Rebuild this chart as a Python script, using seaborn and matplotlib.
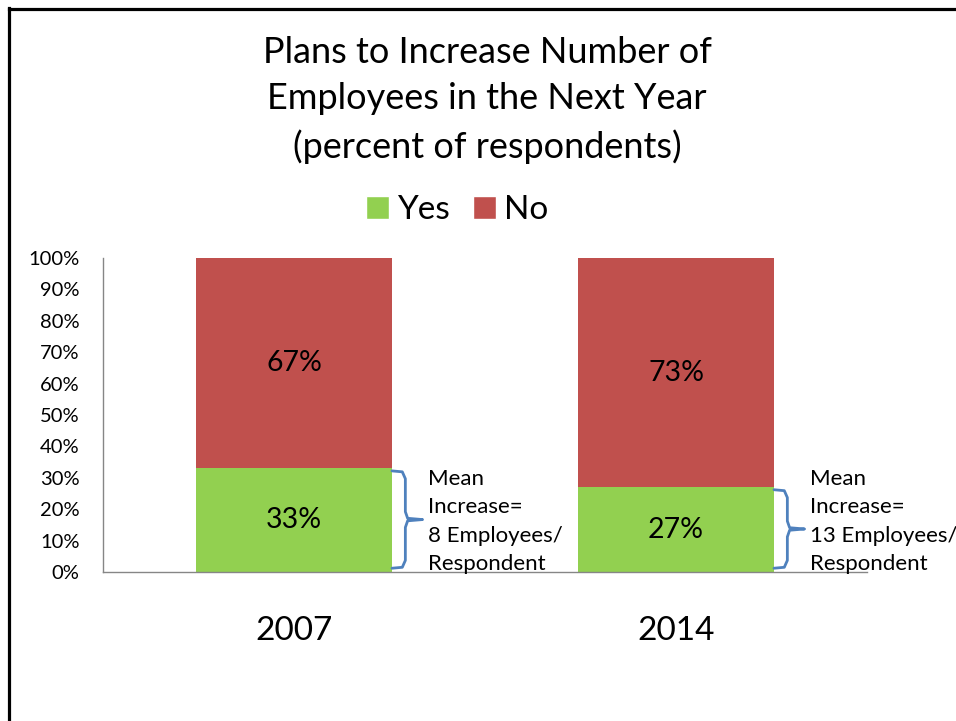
import matplotlib
matplotlib.use("Agg")
import matplotlib.pyplot as plt
from matplotlib.lines import Line2D
from matplotlib.patches import Patch
import seaborn as sns
import pandas as pd

years = ["2007", "2014"]
yes_pct = [33, 27]
no_pct = [67, 73]
mean_increase = ["8", "13"]
yticks = list(range(0, 101, 10))

GREEN = "#92D050"
RED = "#C0504D"
BLUE = "#4F81BD"
FONT = ["Lato", "DejaVu Sans"]

sns.set_style("white")
plt.rcParams["font.family"] = FONT
plt.rcParams["text.color"] = "black"
plt.rcParams["xtick.color"] = "black"
plt.rcParams["ytick.color"] = "black"

df = pd.DataFrame({"year": years, "yes": yes_pct, "no": no_pct})
df["total"] = df["yes"] + df["no"]

fig = plt.figure(figsize=(9.56, 7.21), dpi=100)
W, H = 956, 721
ax = fig.add_axes([103 / W, 1 - 572 / H, (867 - 103) / W, (572 - 258) / H])

sns.barplot(data=df, x="year", y="total", color=RED, width=0.513, ax=ax,
            saturation=1, edgecolor="none", linewidth=0)
sns.barplot(data=df, x="year", y="yes", color=GREEN, width=0.513, ax=ax,
            saturation=1, edgecolor="none", linewidth=0)

ax.set_ylim(0, 100)
ax.set_xlim(-0.5, 1.5)
ax.set_yticks(yticks)
ax.set_yticklabels([f"{t}%" for t in yticks], fontsize=14.5)
ax.set_xlabel("")
ax.set_ylabel("")
ax.tick_params(axis="y", direction="out", length=6, width=1, color="#868686",
               labelcolor="black", pad=11)
ax.tick_params(axis="x", length=0, labelsize=24, pad=32, labelcolor="black")
for s in ["top", "right"]:
    ax.spines[s].set_visible(False)
for s in ["left", "bottom"]:
    ax.spines[s].set_color("#868686")
    ax.spines[s].set_linewidth(1)

half = 0.513 / 2
for i in range(len(years)):
    y, n = yes_pct[i], no_pct[i]
    ax.text(i, y / 2, f"{y}%", ha="center", va="center", fontsize=20.5)
    ax.text(i, y + n / 2, f"{n}%", ha="center", va="center", fontsize=20.5)
    # brace
    x0 = i + half
    xv = x0 + 0.035
    xt = x0 + 0.08
    top = y - 0.8
    bot = 1.2
    mid = (top + bot) / 2
    r = 2.5
    bx = [x0, xv - 0.008, xv, xv, xv + 0.006, xt, xv + 0.006, xv, xv, xv - 0.008, x0]
    by = [top, top - 0.3, top - r, mid + r, mid + 0.4, mid, mid - 0.4, mid - r, bot + r, bot + 0.3, bot]
    ax.plot(bx, by, color=BLUE, lw=2, clip_on=False, solid_joinstyle="round",
            solid_capstyle="round")
    ax.text(x0 + 0.095, 32.8, "Mean\nIncrease=\n" + mean_increase[i] + " Employees/\nRespondent",
            ha="left", va="top", fontsize=16, linespacing=1.52)

fig.text(487 / W, 1 - 100 / H,
         "Plans to Increase Number of\nEmployees in the Next Year\n(percent of respondents)",
         ha="center", va="center", fontsize=26, linespacing=1.5)

handles = [Patch(facecolor=GREEN, label="Yes"), Patch(facecolor=RED, label="No")]
fig.legend(handles=handles, loc="center", bbox_to_anchor=(457 / W, 1 - 210 / H), ncol=2,
           frameon=False, fontsize=24, handlelength=0.68, handleheight=0.68,
           handletextpad=0.25, columnspacing=0.7)

# slide frame
fig.add_artist(Line2D([9 / W, 9 / W], [0, 1 - 8 / H], color="black", lw=2.3,
                      transform=fig.transFigure, solid_capstyle="projecting"))
fig.add_artist(Line2D([9 / W, 1], [1 - 9 / H, 1 - 9 / H], color="black", lw=2.3,
                      transform=fig.transFigure, solid_capstyle="projecting"))

fig.savefig("out.png", dpi=100)
